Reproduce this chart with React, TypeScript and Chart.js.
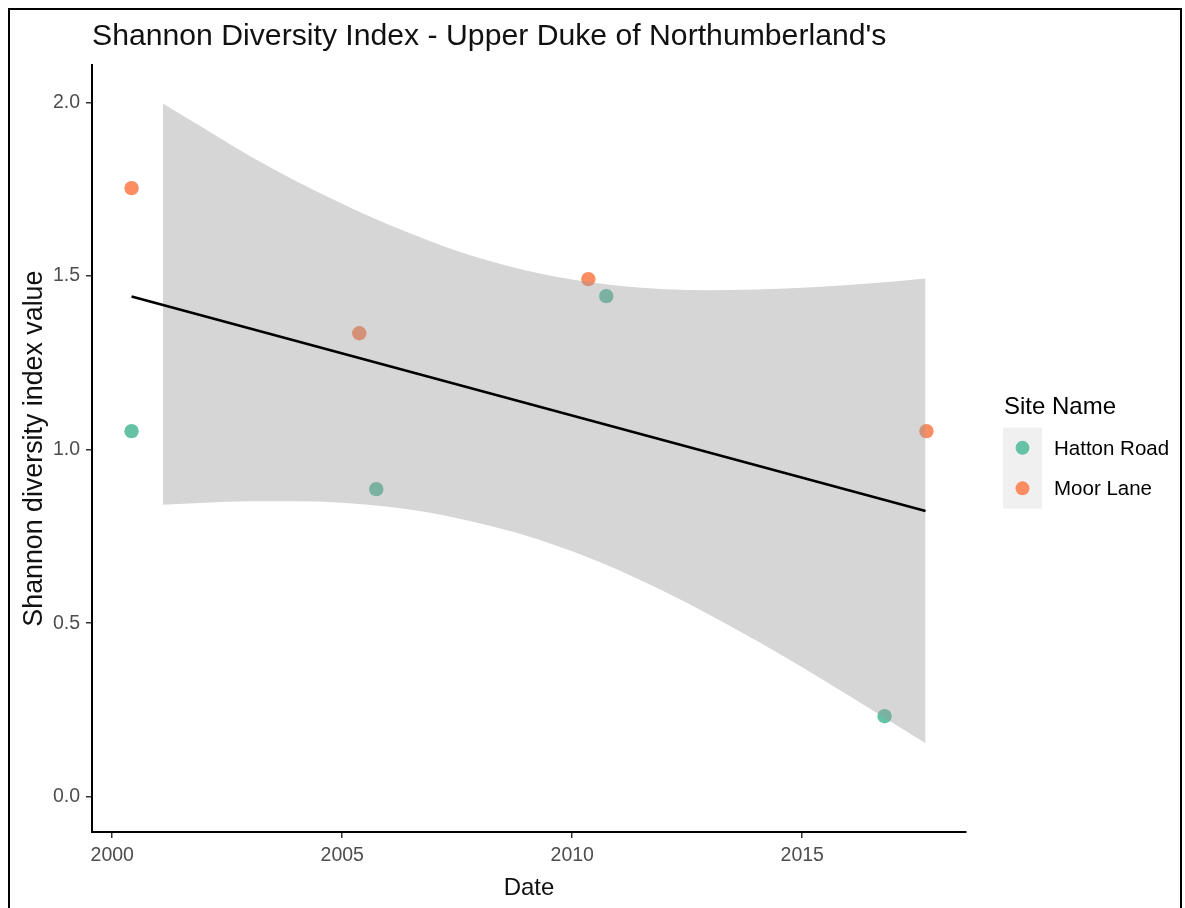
import React, { useEffect, useRef } from "react";
import { Chart, registerables } from "chart.js";

Chart.register(...registerables);

// Survey dates (decimal years) and Shannon index per site
const hattonDates = [2000.42, 2005.74, 2010.74, 2016.79];
const hattonValues = [1.053, 0.886, 1.442, 0.232];
const moorDates = [2000.42, 2005.37, 2010.35, 2017.7];
const moorValues = [1.753, 1.335, 1.491, 1.053];

// Linear trend end points
const trendDates = [2000.42, 2017.68];
const trendValues = [1.441, 0.823];

// 95% confidence band around the trend
const bandDates = [2001.1, 2002, 2003, 2004, 2005, 2006, 2007, 2008, 2009, 2010, 2011, 2012, 2013, 2014, 2015, 2016, 2017, 2017.68];
const bandUpper = [1.997, 1.925, 1.845, 1.773, 1.708, 1.648, 1.596, 1.551, 1.516, 1.49, 1.472, 1.462, 1.459, 1.461, 1.466, 1.474, 1.484, 1.493];
const bandLower = [0.841, 0.847, 0.851, 0.851, 0.847, 0.835, 0.816, 0.787, 0.752, 0.707, 0.653, 0.591, 0.523, 0.45, 0.373, 0.292, 0.21, 0.154];

const xTicks = [2000, 2005, 2010, 2015];
const yTicks = [0, 0.5, 1, 1.5, 2];

const siteNames = ["Hatton Road", "Moor Lane"];
const siteColors = ["#66C2A5", "#FC8D62"];

const FONT = "'Liberation Sans', Arial, Helvetica, sans-serif";

const pts = (xs: number[], ys: number[]) => xs.map((x, i) => ({ x, y: ys[i] }));

const framePlugin = {
  id: "frame",
  beforeDraw(chart: any) {
    const ctx = chart.ctx;
    ctx.save();
    ctx.fillStyle = "#ffffff";
    ctx.fillRect(0, 0, chart.width, chart.height);
    ctx.strokeStyle = "#000";
    ctx.lineWidth = 2;
    ctx.strokeRect(9, 9, 1172, 910);
    ctx.restore();
  },
};

const legendPlugin = {
  id: "siteLegend",
  afterDraw(chart: any) {
    const { ctx, chartArea } = chart;
    const left = chartArea.right + 37;
    const mid = (chartArea.top + chartArea.bottom) / 2;
    ctx.save();
    ctx.fillStyle = "#000";
    ctx.font = `24px ${FONT}`;
    ctx.textAlign = "left";
    ctx.textBaseline = "alphabetic";
    ctx.fillText("Site Name", left + 1, mid - 35);
    const keyTop = mid - 21;
    const keyH = 40.5;
    ctx.fillStyle = "#F0F0F0";
    ctx.fillRect(left, keyTop, 39, keyH * siteNames.length);
    siteNames.forEach((name, i) => {
      const cy = keyTop + keyH * i + keyH / 2;
      ctx.beginPath();
      ctx.arc(left + 19.5, cy, 7, 0, Math.PI * 2);
      ctx.fillStyle = siteColors[i];
      ctx.fill();
      ctx.fillStyle = "#000";
      ctx.font = `20.5px ${FONT}`;
      ctx.textBaseline = "middle";
      ctx.fillText(name, left + 51, cy + 1);
    });
    ctx.restore();
  },
};

export default function App() {
  const ref = useRef<HTMLCanvasElement>(null);

  useEffect(() => {
    if (!ref.current) return;
    const chart = new Chart(ref.current, {
      type: "scatter",
      data: {
        datasets: [
          {
            label: "trend",
            data: pts(trendDates, trendValues),
            showLine: true,
            borderColor: "#000",
            borderWidth: 2.6,
            pointRadius: 0,
            fill: false,
            order: 0,
          },
          {
            label: "upper",
            data: pts(bandDates, bandUpper),
            showLine: true,
            borderWidth: 0,
            borderColor: "rgba(0,0,0,0)",
            backgroundColor: "rgba(153,153,153,0.4)",
            pointRadius: 0,
            cubicInterpolationMode: "monotone",
            fill: "+1",
            order: 1,
          },
          {
            label: "lower",
            data: pts(bandDates, bandLower),
            showLine: true,
            borderWidth: 0,
            borderColor: "rgba(0,0,0,0)",
            pointRadius: 0,
            cubicInterpolationMode: "monotone",
            fill: false,
            order: 1,
          },
          {
            label: siteNames[0],
            data: pts(hattonDates, hattonValues),
            backgroundColor: siteColors[0],
            borderWidth: 0,
            pointRadius: 7.2,
            order: 2,
          },
          {
            label: siteNames[1],
            data: pts(moorDates, moorValues),
            backgroundColor: siteColors[1],
            borderWidth: 0,
            pointRadius: 7.2,
            order: 2,
          },
        ],
      },
      options: {
        animation: false,
        responsive: false,
        devicePixelRatio: 1,
        layout: { padding: { top: 8, left: 0, right: 219, bottom: 0 } },
        plugins: {
          legend: { display: false },
          tooltip: { enabled: false },
          title: {
            display: true,
            text: "Shannon Diversity Index - Upper Duke of Northumberland's",
            align: "start",
            fullSize: false,
            color: "#111",
            font: { family: FONT, size: 30.2, weight: "normal" },
            padding: { top: 11, bottom: 10 },
          },
        },
        scales: {
          x: {
            type: "linear",
            min: 1999.56,
            max: 2018.56,
            afterBuildTicks: (s: any) => {
              s.ticks = xTicks.map((v) => ({ value: v }));
            },
            afterFit: (s: any) => {
              s.height = 76;
            },
            ticks: {
              color: "#4D4D4D",
              font: { family: FONT, size: 19.5 },
              padding: 6,
              maxRotation: 0,
              callback: (v: any) => String(v),
            },
            grid: {
              display: true,
              drawOnChartArea: false,
              drawTicks: true,
              tickLength: 6,
              color: "#333",
              lineWidth: 1.5,
            },
            border: { display: true, color: "#000", width: 2 },
            title: {
              display: true,
              text: "Date",
              color: "#111",
              font: { family: FONT, size: 24 },
              padding: { top: 0, bottom: 5 },
            },
          },
          y: {
            type: "linear",
            min: -0.1016,
            max: 2.107,
            afterBuildTicks: (s: any) => {
              s.ticks = yTicks.map((v) => ({ value: v }));
            },
            afterFit: (s: any) => {
              s.width = 92;
            },
            ticks: {
              color: "#4D4D4D",
              font: { family: FONT, size: 19.5 },
              padding: 6,
              callback: (v: any) => Number(v).toFixed(1),
            },
            grid: {
              display: true,
              drawOnChartArea: false,
              drawTicks: true,
              tickLength: 6,
              color: "#333",
              lineWidth: 1.5,
            },
            border: { display: true, color: "#000", width: 2 },
            title: {
              display: true,
              text: "Shannon diversity index value",
              color: "#111",
              font: { family: FONT, size: 26.8 },
              padding: { top: 19, bottom: 0 },
            },
          },
        },
      },
      plugins: [framePlugin, legendPlugin],
    } as any);
    return () => chart.destroy();
  }, []);

  return (
    <div style={{ position: "absolute", left: 0, top: 0, width: 1185, height: 908 }}>
      <canvas ref={ref} width={1185} height={908} style={{ display: "block" }} />
    </div>
  );
}
